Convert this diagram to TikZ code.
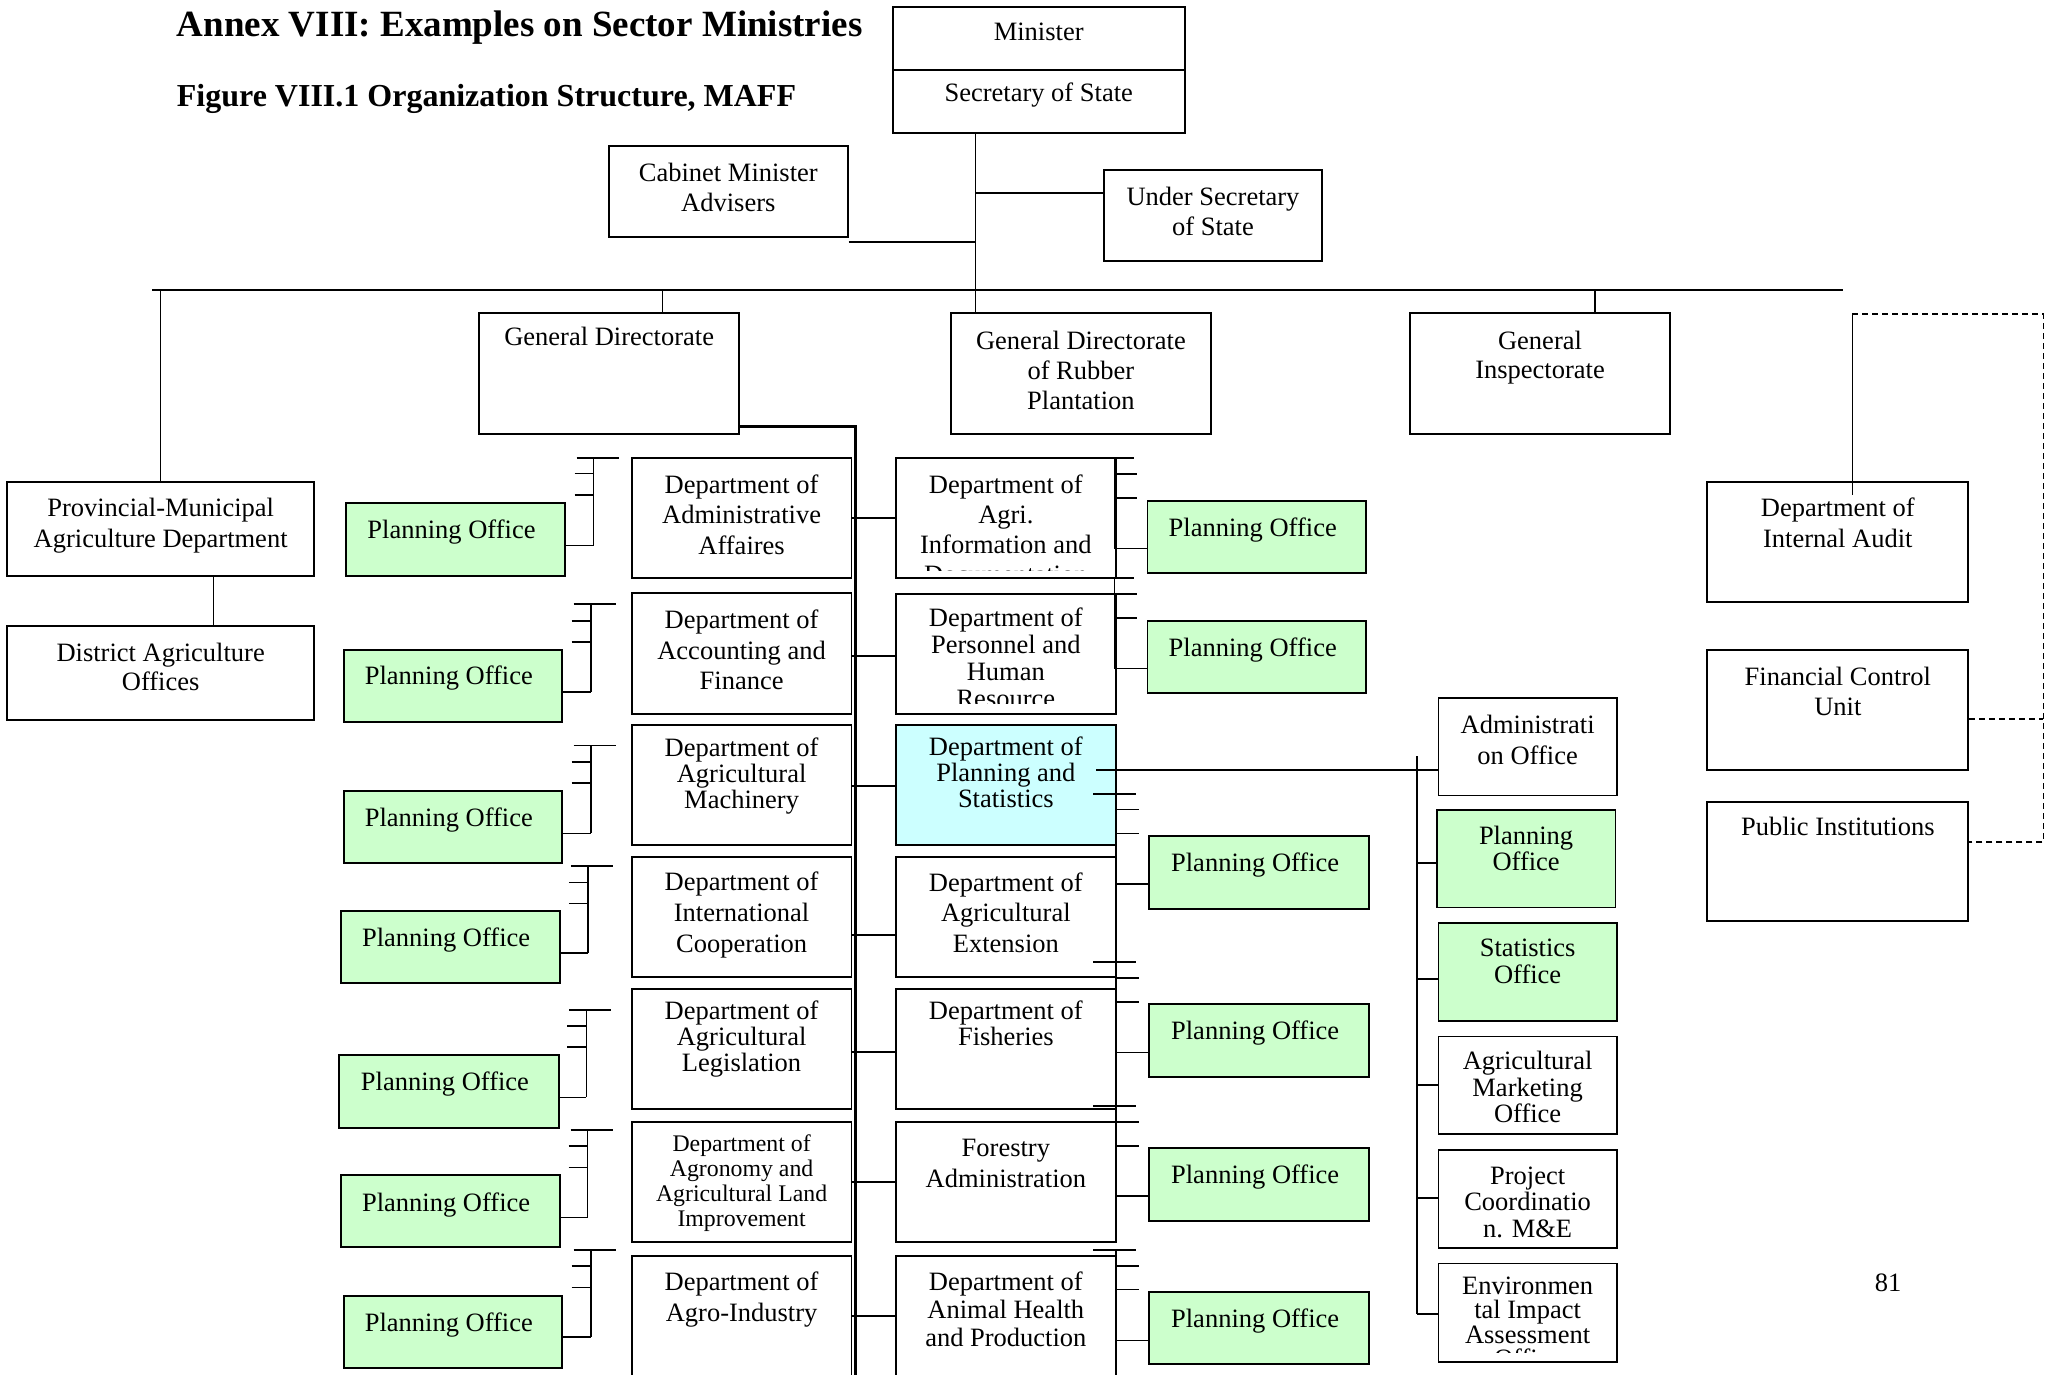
\documentclass[tikz,border=0pt]{standalone}
\usepackage{fontspec}
\setmainfont{Liberation Serif}
\newcommand\tsize[2]{\fontsize{#1}{#2}\selectfont}
% fixed height of the first label line, so a label hangs from its first baseline
\newcommand\lblstrut{\rule{0pt}{20pt}}
\definecolor{pogreen}{RGB}{204,255,204}
\definecolor{plcyan}{RGB}{204,255,255}
\tikzset{
  box/.style={draw, line width=1.8pt, inner sep=0pt},
  pobox/.style={box, fill=pogreen},
  plbox/.style={box, fill=plcyan},
  txt/.style={anchor=north, align=center, inner sep=0pt, font=\tsize{26.5}{30}},
  sk/.style={font=\tsize{26.5}{#1}},
  potxt/.style={xshift=-4pt},
  link/.style={line width=1.6pt},
  spine/.style={line width=3.4pt},
  dlink/.style={line width=1.6pt, dash pattern=on 6pt off 4pt},
}
% a rectangle given by its corners
\newcommand\plainbox[6]{%
  \node[#2, minimum width={#5-#3}, minimum height={#6-#4}] (#1) at ({(#3+#5)/2},{(#4+#6)/2}) {};}
% a rectangle with its label; #7 = first baseline, #8 = label options
\newcommand\orgbox[9]{%
  \plainbox{#1}{#2}{#3}{#4}{#5}{#6}
  \node[txt, #8] (#1-t) at ({(#3+#5)/2},{#7-20}) {\lblstrut#9};}
% stub bracket left of a department: vertical x, top, two ticks, foot, office
\newcommand\combleft[6]{%
  \draw[link] (#1-17,#2) -- (#1+25,#2);
  \draw[link] (#1,#2) -- (#1,#5);
  \draw[link] (#1-19,#3) -- (#1,#3);
  \draw[link] (#1-19,#4) -- (#1,#4);
  \draw[link] (#6.east |- 0,#5) -- (#1,#5);}
% stub bracket right of a department: vertical x, left end, top, two ticks, foot, office
\newcommand\combright[7]{%
  \draw[link] (#2,#3) -- (#1+20,#3);
  \draw[link] (#1,#3) -- (#1,#6);
  \draw[link] (#1,#4) -- (#1+23,#4);
  \draw[link] (#1,#5) -- (#1+23,#5);
  \draw[link] (#1,#6) -- (#7.west |- 0,#6);}
\begin{document}
\begin{tikzpicture}[x=1pt,y=-1pt]
\useasboundingbox (0,0) rectangle (2049,1374);
\clip (0,0) rectangle (2049,1374);

% headings
\node[anchor=base west, inner sep=0pt, font=\bfseries\tsize{37}{40}] (title) at (176.7,36) {Annex VIII: Examples on Sector Ministries};
\node[anchor=base west, inner sep=0pt, font=\bfseries\tsize{32}{36}] (subtitle) at (176.7,106) {Figure VIII.1 Organization Structure, MAFF};

% top management
\orgbox{minister}{box}{892.7}{7.3}{1184.7}{70.3}{40}{}{Minister}
\orgbox{sos}{box}{892.7}{70.3}{1184.7}{133.3}{101.7}{}{Secretary of State}
\orgbox{undersec}{box}{1104}{170}{1322}{261}{205}{}{Under Secretary\\of State}
\orgbox{cabinet}{box}{609}{145.7}{847.6}{236.7}{181.7}{}{Cabinet Minister\\Advisers}
\orgbox{gd}{box}{479}{313.3}{739.3}{434}{345.7}{}{General Directorate}
\orgbox{gdr}{box}{951}{313.3}{1210.8}{434}{349.3}{}{General Directorate\\of Rubber\\Plantation}
\orgbox{gi}{box}{1410}{313.3}{1670}{434}{349.3}{sk=29}{General\\Inspectorate}

% provinces
\orgbox{prov}{box}{7.3}{481.7}{314}{576}{516.7}{sk=31}{Provincial-Municipal\\Agriculture Department}
\orgbox{dist}{box}{7.3}{625.7}{314}{720}{661.7}{sk=28.3}{District Agriculture\\Offices}

% audit and control
\orgbox{audit}{box}{1707.3}{482}{1968.3}{601.9}{516.4}{sk=30.7}{Department of\\Internal Audit}
\orgbox{fcu}{box}{1707.3}{650}{1968.3}{769.8}{685.1}{sk=30.3}{Financial Control\\Unit}
\orgbox{pi}{box}{1707.3}{801.6}{1968.3}{921.3}{835.7}{}{Public Institutions}

% departments, left column
\orgbox{d1}{box}{631.8}{458}{851.4}{577.7}{493.3}{sk=30.3}{Department of\\Administrative\\Affaires}
\orgbox{d2}{box}{631.8}{593.3}{851.4}{714}{628.3}{sk=30.5}{Department of\\Accounting and\\Finance}
\orgbox{d3}{box}{631.8}{725.3}{851.4}{845.3}{756.7}{sk=25.8}{Department of\\Agricultural\\Machinery}
\orgbox{d4}{box}{631.8}{856.7}{851.4}{976.7}{890.7}{sk=31}{Department of\\International\\Cooperation}
\orgbox{d5}{box}{631.8}{989}{851.4}{1109}{1019}{sk=26.3}{Department of\\Agricultural\\Legislation}
\orgbox{d6}{box}{631.8}{1121.7}{851.4}{1241.7}{1151.7}{font=\tsize{23.8}{25}}{Department of\\Agronomy and\\Agricultural Land\\Improvement}
\orgbox{d7}{box}{631.8}{1256}{851.4}{1395}{1290.7}{sk=31}{Department of\\Agro-Industry}

% departments, middle column
\plainbox{m1}{box}{895.7}{458}{1116}{577.7}
\begin{scope}
  \clip (895.7,458) rectangle (1116,570);
  \node[txt] (m1-t) at (1005.85,473.3) {\lblstrut Department of\\Agri.\\Information and\\Documentation};
\end{scope}
\plainbox{m2}{box}{895.7}{593.7}{1116}{714}
\begin{scope}
  \clip (895.7,593.7) rectangle (1116,703.3);
  \node[txt, sk=27] (m2-t) at (1005.85,606.7) {\lblstrut Department of\\Personnel and\\Human\\Resource};
\end{scope}
\orgbox{m3}{plbox}{895.7}{725}{1116}{845}{755}{sk=26}{Department of\\Planning and\\Statistics}
\orgbox{m4}{box}{895.7}{856.7}{1116}{976.7}{891}{sk=30.5}{Department of\\Agricultural\\Extension}
\orgbox{m5}{box}{895.7}{988.7}{1116}{1108.7}{1019}{sk=26.7}{Department of\\Fisheries}
\orgbox{m6}{box}{895.7}{1121.7}{1116}{1241.7}{1156.7}{sk=30.7}{Forestry\\Administration}
\orgbox{m7}{box}{895.7}{1256}{1116}{1395}{1290}{sk=28.3}{Department of\\Animal Health\\and Production}

% planning offices, left
\orgbox{p1}{pobox}{346}{503}{565}{575.7}{538.3}{potxt}{Planning Office}
\orgbox{p2}{pobox}{343.6}{650}{562}{722}{684.3}{potxt}{Planning Office}
\orgbox{p3}{pobox}{343.6}{791}{562}{863.3}{826}{potxt}{Planning Office}
\orgbox{p4}{pobox}{340.7}{911}{559.6}{983.3}{946.7}{potxt}{Planning Office}
\orgbox{p5}{pobox}{339.3}{1055}{558.6}{1127.7}{1090.7}{potxt}{Planning Office}
\orgbox{p6}{pobox}{340.7}{1175.3}{559.6}{1247.3}{1211.7}{potxt}{Planning Office}
\orgbox{p7}{pobox}{343.6}{1295.7}{562}{1367.7}{1331.7}{potxt}{Planning Office}

% planning offices, right
\orgbox{q1}{pobox}{1147.5}{500.7}{1366}{572.7}{536}{potxt}{Planning Office}
\orgbox{q2}{pobox}{1147.5}{620.7}{1366}{692.7}{656}{potxt}{Planning Office}
\orgbox{q3}{pobox}{1149.3}{836}{1369}{908.7}{871.7}{potxt}{Planning Office}
\orgbox{q4}{pobox}{1149.3}{1004.3}{1369}{1076.7}{1039.3}{potxt}{Planning Office}
\orgbox{q5}{pobox}{1149.3}{1148.3}{1369}{1220.7}{1183.3}{potxt}{Planning Office}
\orgbox{q6}{pobox}{1149.3}{1292.3}{1369}{1364.3}{1327.7}{potxt}{Planning Office}

% offices of planning and statistics
\orgbox{s1}{box}{1438.4}{697.7}{1616.8}{795.5}{733}{sk=31}{Administrati\\on Office}
\orgbox{s2}{pobox}{1436.7}{809.7}{1615.5}{907.5}{843.8}{sk=26.6}{Planning\\Office}
\orgbox{s3}{pobox}{1438.4}{923}{1616.8}{1020.9}{956.7}{sk=26.5}{Statistics\\Office}
\orgbox{s4}{box}{1438.4}{1036.4}{1616.8}{1134.2}{1069.5}{sk=26.6}{Agricultural\\Marketing\\Office}
\orgbox{s5}{box}{1438.4}{1150}{1616.8}{1248}{1183.8}{sk=26.5}{Project\\Coordinatio\\n. M\&E}
\plainbox{s6}{box}{1438.4}{1263.4}{1616.8}{1361.7}
\begin{scope}
  \clip (1438.4,1263.4) rectangle (1616.8,1352);
  \node[txt, sk=24.3] (s6-t) at (1527.6,1274.4) {\lblstrut Environmen\\tal Impact\\Assessment\\Office};
\end{scope}

% page number
\node[txt] (pagenum) at (1888,1271) {\lblstrut 81};

% top connectors
\coordinate (cab) at (975.6,242);
\coordinate (usec) at (975.6,193);
\draw[link] (975.6,0 |- sos.south) -- (975.6,0 |- gdr.north);
\draw[link] (cabinet.east |- cab) -- (cab);
\draw[link] (usec) -- (undersec.west |- usec);
\coordinate (barl) at (152,290);
\coordinate (barr) at (1843,290);
\draw[link] (barl) -- (barr);
\draw[line width=2.6pt] (barl) -- (357,290);
\draw[link] (prov.north |- barl) -- (prov.north);
\draw[link] (213.3,0 |- prov.south) -- (213.3,0 |- dist.north);
\draw[link] (662.3,290) -- (662.3,0 |- gd.north);
\draw[link] (1594.7,290) -- (1594.7,0 |- gi.north);

% audit branch
\coordinate (atop) at (1852.3,314);
\coordinate (acorner) at (2043.3,314);
\coordinate (abottom) at (2043.3,842);
\draw[link] (atop) -- (1852.3,495.3);
\draw[dlink] (atop) -- (acorner) -- (abottom) -- (pi.east |- abottom);
\draw[dlink] (fcu.east |- 0,719.2) -- (2043.3,719.2);

% spine of the general directorate
\draw[spine] (gd.east |- 0,426.7) -- (855.7,426.7) -- (855.7,1395);
\foreach \a/\b/\y in {d1/m1/517.7, d2/m2/655.7, d3/m3/785.7, d4/m4/935, d5/m5/1051.7, d6/m6/1181.7, d7/m7/1315.7}
  \draw[link] (\a.east |- 0,\y) -- (\b.west |- 0,\y);

% brackets of the planning offices
\combleft{593.6}{458}{473.3}{495}{545.3}{p1}
\combleft{590.7}{604}{620.7}{641.7}{691.7}{p2}
\combleft{590.7}{745.3}{761.7}{782.7}{833.3}{p3}
\combleft{587.9}{865.7}{882.3}{903.3}{952.7}{p4}
\combleft{586.4}{1009.7}{1025.7}{1047}{1097.3}{p5}
\combleft{587.5}{1130}{1146}{1167.3}{1217.3}{p6}
\combleft{590.7}{1250}{1266}{1287.3}{1337}{p7}
\combright{1114.3}{1110}{458}{473.7}{497.7}{548.3}{q1}
\combright{1114.3}{1110}{577.7}{594}{617.7}{668.3}{q2}
\combright{1116}{1093}{794}{809.3}{833.3}{884}{q3}
\combright{1116}{1093}{961.7}{977.7}{1001.7}{1052.3}{q4}
\combright{1116}{1093}{1106}{1121.7}{1145.7}{1196}{q5}
\combright{1116}{1093}{1250}{1266}{1289.3}{1340.3}{q6}

% offices under planning and statistics
\coordinate (ps) at (1096.4,770);
\draw[link] (ps) -- (s1.west |- ps);
\draw[link] (1416.7,756) -- (1416.7,1314);
\foreach \n/\y in {s2/862.8, s3/978.8, s4/1085, s5/1198, s6/1314}
  \draw[link] (1416.7,\y) -- (\n.west |- 0,\y);
\end{tikzpicture}
\end{document}
